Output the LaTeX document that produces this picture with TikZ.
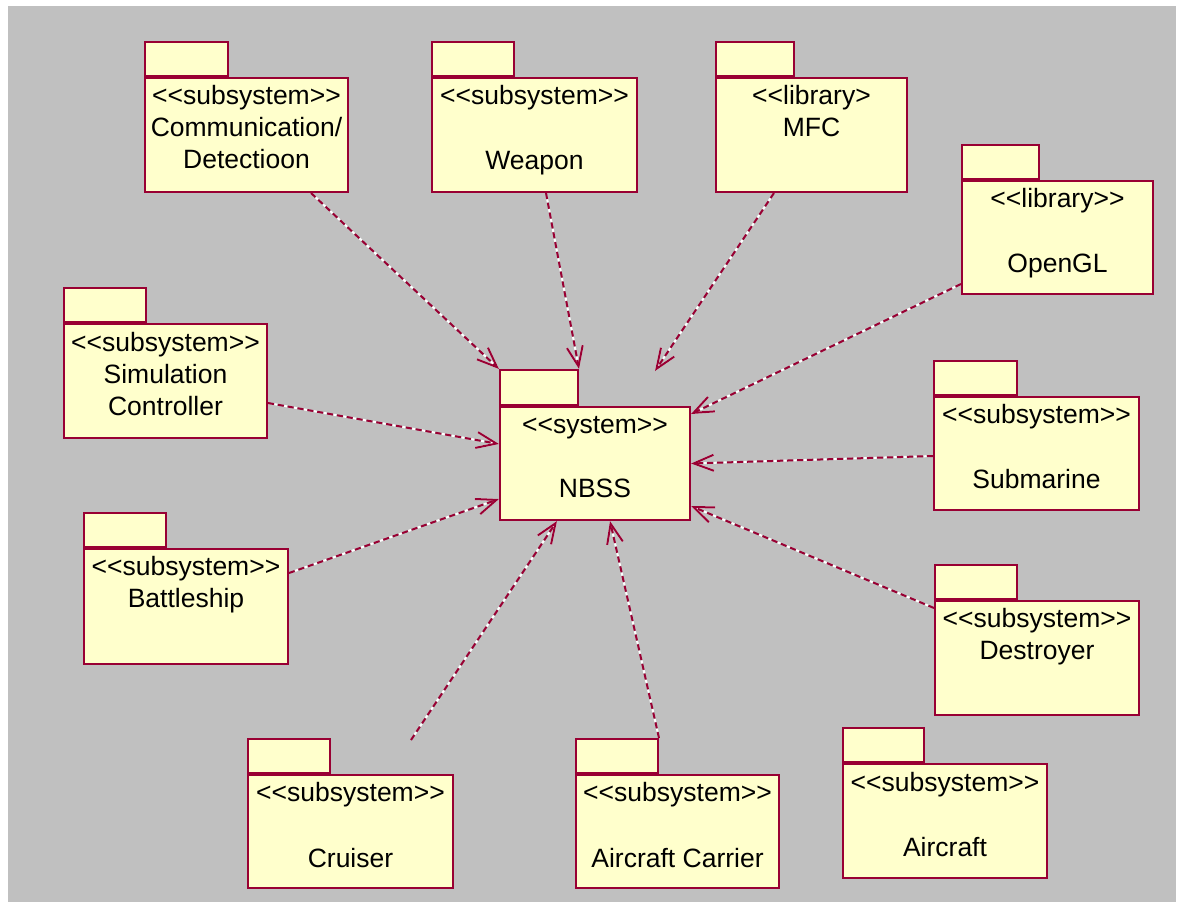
\documentclass[tikz,border=0pt]{standalone}
\usepackage{fontspec}
\setmainfont{Liberation Sans}
\usetikzlibrary{arrows.meta}
\definecolor{canvasgrey}{HTML}{C0C0C0}
\definecolor{pkgfill}{HTML}{FFFFCC}
\definecolor{pkgline}{HTML}{990033}

% one text line of a package, its baseline #2 pt below the top of the body
\newcommand{\pkgline}[4]{%
  \node[lbl] (#1-l#3) at ([yshift=-#2pt]#1.north) {#4};}
% guillemet-free stereotype brackets
\newcommand{\stl}{<{}<}
\newcommand{\str}{>{}>}

\begin{document}
\begin{tikzpicture}[x=1pt,y=-1pt,
  pkgbody/.style n args={2}{draw=pkgline, fill=pkgfill, line width=2pt,
    rectangle, inner sep=0pt, anchor=north west,
    minimum width=#1pt, minimum height=#2pt},
  pkgtab/.style={draw=pkgline, fill=pkgfill, line width=2pt, rectangle,
    inner sep=0pt, anchor=south west, minimum height=34pt, minimum width=#1pt},
  lbl/.style={anchor=base, inner sep=0pt, font=\fontsize{26.5}{31}\selectfont},
  dep/.style={draw=pkgline, line width=2pt, dash pattern=on 6pt off 4pt,
    preaction={draw=white, line width=2pt, dash pattern=on 3pt off 7pt, dash phase=3.5pt},
    -{Straight Barb[length=20pt,width=16pt,line width=2pt]}}]

\useasboundingbox (0,0) rectangle (1177,903);
\fill[white] (0,0) rectangle (1177,903);
\fill[canvasgrey] (8,6) rectangle (1176,902);

% packages: body, then the tab on its top-left corner
\node[pkgbody={203}{114}] (comm) at (144,77) {};
\node[pkgtab=83] (commtab) at (comm.north west) {};
\node[pkgbody={205}{114}] (weapon) at (431,77) {};
\node[pkgtab=82] (weapontab) at (weapon.north west) {};
\node[pkgbody={191}{114}] (mfc) at (715,77) {};
\node[pkgtab=78] (mfctab) at (mfc.north west) {};
\node[pkgbody={191}{113}] (opengl) at (961,180) {};
\node[pkgtab=77] (opengltab) at (opengl.north west) {};
\node[pkgbody={203}{114}] (sim) at (63,323) {};
\node[pkgtab=82] (simtab) at (sim.north west) {};
\node[pkgbody={190}{113}] (nbss) at (499,406) {};
\node[pkgtab=78,minimum height=35pt] (nbsstab) at (nbss.north west) {};
\node[pkgbody={205}{113}] (sub) at (933,396) {};
\node[pkgtab=83] (subtab) at (sub.north west) {};
\node[pkgbody={204}{115}] (battle) at (83,548) {};
\node[pkgtab=82] (battletab) at (battle.north west) {};
\node[pkgbody={204}{114}] (destroyer) at (934,600) {};
\node[pkgtab=82] (destroyertab) at (destroyer.north west) {};
\node[pkgbody={205}{113}] (cruiser) at (247,774) {};
\node[pkgtab=82] (cruisertab) at (cruiser.north west) {};
\node[pkgbody={203}{113}] (carrier) at (575,774) {};
\node[pkgtab=82] (carriertab) at (carrier.north west) {};
\node[pkgbody={204}{114}] (aircraft) at (842,763) {};
\node[pkgtab=81] (aircrafttab) at (aircraft.north west) {};

% package texts
\pkgline{comm}{27}{1}{\stl subsystem\str}
\pkgline{comm}{59}{2}{Communication/}
\pkgline{comm}{91}{3}{Detectioon}
\pkgline{weapon}{27}{1}{\stl subsystem\str}
\pkgline{weapon}{92}{2}{Weapon}
\pkgline{mfc}{27}{1}{\stl library>}
\pkgline{mfc}{59}{2}{MFC}
\pkgline{opengl}{27}{1}{\stl library\str}
\pkgline{opengl}{92}{2}{OpenGL}
\pkgline{sim}{28}{1}{\stl subsystem\str}
\pkgline{sim}{60}{2}{Simulation}
\pkgline{sim}{92}{3}{Controller}
\pkgline{nbss}{27}{1}{\stl system\str}
\pkgline{nbss}{91}{2}{NBSS}
\pkgline{sub}{27}{1}{\stl subsystem\str}
\pkgline{sub}{92}{2}{Submarine}
\pkgline{battle}{27}{1}{\stl subsystem\str}
\pkgline{battle}{59}{2}{Battleship}
\pkgline{destroyer}{27}{1}{\stl subsystem\str}
\pkgline{destroyer}{59}{2}{Destroyer}
\pkgline{cruiser}{27}{1}{\stl subsystem\str}
\pkgline{cruiser}{93}{2}{Cruiser}
\pkgline{carrier}{27}{1}{\stl subsystem\str}
\pkgline{carrier}{93}{2}{Aircraft Carrier}
\pkgline{aircraft}{28}{1}{\stl subsystem\str}
\pkgline{aircraft}{93}{2}{Aircraft}

% free ends of two dependencies
\coordinate (mfcend) at (655,371);
\coordinate (cruiserstart) at (411,740);

% dependencies on the system
\draw[dep] ([xshift=64.5pt]comm.south) -- (nbsstab.north west);
\draw[dep] ([xshift=11.5pt]weapon.south) -- (nbsstab.north east);
\draw[dep] ([xshift=-37.5pt]mfc.south) -- (mfcend);
\draw[dep] ([yshift=-46.5pt]opengl.west) -- ([yshift=49.5pt]nbss.east);
\draw[dep] ([yshift=-22pt]sim.east) -- ([yshift=19.5pt]nbss.west);
\draw[dep] ([yshift=33.5pt]battle.east) -- ([yshift=-35.5pt]nbss.west);
\draw[dep] ([yshift=-2.5pt]sub.west) -- (nbss.east);
\draw[dep] ([yshift=50pt]destroyer.west) -- ([yshift=-42.5pt]nbss.east);
\draw[dep] (cruiserstart) -- ([xshift=-38pt]nbss.south);
\draw[dep] (carriertab.north east) -- ([xshift=15pt]nbss.south);

\end{tikzpicture}
\end{document}
